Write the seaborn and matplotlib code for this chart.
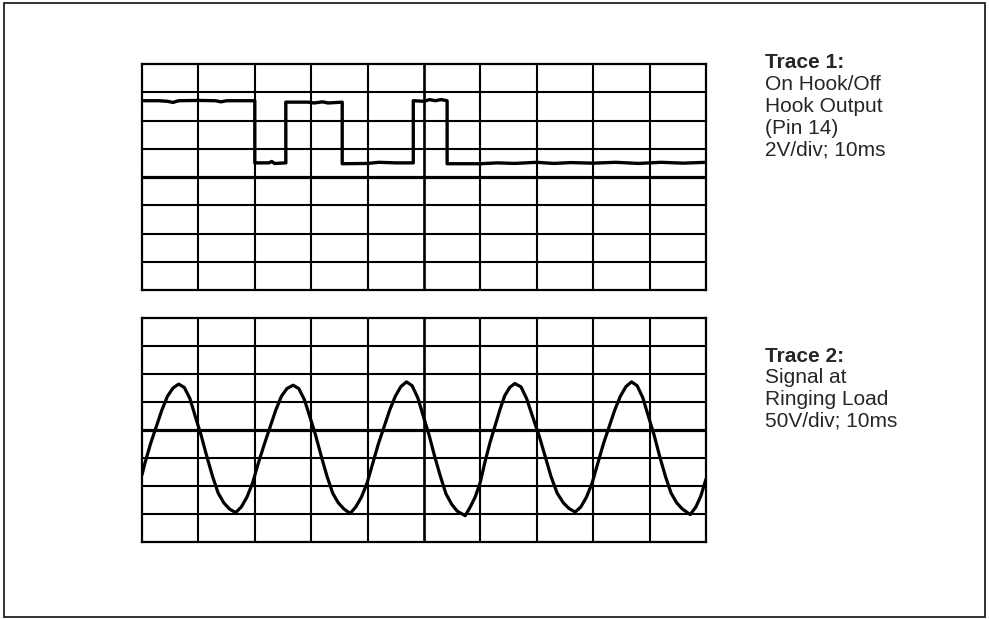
import pandas as pd
import matplotlib
matplotlib.use("Agg")
import matplotlib.pyplot as plt
import seaborn as sns

# Trace 1: on hook / off hook output (divisions, 10 x 8 graticule)
hook_x = [0.0, 0.3, 0.45, 0.55, 0.65, 1.0, 1.3, 1.4, 1.5, 2.0,
          2.0, 2.25, 2.3, 2.35, 2.55,
          2.55, 2.95, 3.05, 3.2, 3.3, 3.55,
          3.55, 4.0, 4.2, 4.5, 4.81,
          4.81, 5.0, 5.1, 5.2, 5.3, 5.41,
          5.41, 6.0, 6.3, 6.6, 7.0, 7.3, 7.6, 8.0, 8.4, 8.8, 9.2, 9.6, 10.0]
hook_y = [6.70, 6.70, 6.68, 6.64, 6.70, 6.71, 6.70, 6.66, 6.70, 6.70,
          4.50, 4.50, 4.55, 4.48, 4.50,
          6.65, 6.65, 6.62, 6.66, 6.62, 6.65,
          4.47, 4.48, 4.52, 4.50, 4.50,
          6.70, 6.68, 6.74, 6.70, 6.74, 6.70,
          4.47, 4.47, 4.50, 4.48, 4.52, 4.48, 4.51, 4.49, 4.52, 4.48, 4.52, 4.49, 4.52]

# Trace 2: signal at ringing load
ring_x = [0.0, 0.05, 0.15, 0.25, 0.35, 0.45, 0.55, 0.65,
          0.75, 0.85, 0.95, 1.05, 1.15, 1.25, 1.35, 1.45, 1.55, 1.66,
          1.76, 1.86, 1.96, 2.06, 2.17, 2.27, 2.37, 2.47, 2.57, 2.68,
          2.78, 2.88, 2.98, 3.08, 3.18, 3.28, 3.38, 3.48, 3.58, 3.69,
          3.79, 3.89, 3.99, 4.09, 4.19, 4.29, 4.39, 4.49, 4.59, 4.69,
          4.79, 4.89, 4.99, 5.09, 5.19, 5.29, 5.39, 5.49, 5.59, 5.73,
          5.82, 5.91, 6.00, 6.08, 6.17, 6.26, 6.35, 6.43, 6.52, 6.61,
          6.72, 6.82, 6.93, 7.04, 7.15, 7.25, 7.36, 7.47, 7.57, 7.68,
          7.78, 7.88, 7.98, 8.08, 8.18, 8.28, 8.38, 8.48, 8.58, 8.68,
          8.78, 8.88, 8.98, 9.08, 9.18, 9.28, 9.38, 9.48, 9.58, 9.72,
          9.82, 9.91, 10.0]
ring_y = [2.40, 2.80, 3.50, 4.10, 4.70, 5.20, 5.50, 5.64,
          5.52, 5.12, 4.45, 3.80, 3.05, 2.35, 1.75, 1.40, 1.18, 1.05,
          1.25, 1.60, 2.10, 2.80, 3.50, 4.10, 4.70, 5.20, 5.48, 5.60,
          5.48, 5.08, 4.45, 3.80, 3.05, 2.35, 1.75, 1.40, 1.18, 1.02,
          1.25, 1.60, 2.10, 2.80, 3.50, 4.10, 4.70, 5.20, 5.55, 5.72,
          5.58, 5.15, 4.48, 3.82, 3.05, 2.35, 1.72, 1.35, 1.10, 0.94,
          1.25, 1.62, 2.15, 2.85, 3.55, 4.15, 4.75, 5.22, 5.52, 5.66,
          5.54, 5.12, 4.45, 3.80, 3.05, 2.35, 1.75, 1.40, 1.20, 1.07,
          1.25, 1.60, 2.10, 2.80, 3.50, 4.10, 4.70, 5.20, 5.55, 5.72,
          5.58, 5.15, 4.48, 3.82, 3.05, 2.35, 1.75, 1.40, 1.18, 0.98,
          1.25, 1.65, 2.25]

trace1_lines = ["On Hook/Off", "Hook Output", "(Pin 14)", "2V/div; 10ms"]
trace2_lines = ["Signal at", "Ringing Load", "50V/div; 10ms"]

sns.set_style("white")
plt.rcParams['font.family'] = ['Liberation Sans', 'DejaVu Sans']

fig = plt.figure(figsize=(9.89, 6.19), dpi=100)
W, H = 989, 619


def px_axes(x0, y0, x1, y1):
    return fig.add_axes([x0 / W, 1 - y1 / H, (x1 - x0) / W, (y1 - y0) / H])


def graticule(ax):
    ax.set_xlim(0, 10)
    ax.set_ylim(0, 8)
    for v in range(1, 10):
        ax.axvline(v, color='black', lw=1.9 if v == 5 else 1.5, zorder=1)
    for h in range(1, 8):
        ax.axhline(h, color='black', lw=2.3 if h == 4 else 1.5, zorder=1)
    ax.set_xticks([])
    ax.set_yticks([])
    ax.set_xlabel('')
    ax.set_ylabel('')
    for s in ax.spines.values():
        s.set_visible(True)
        s.set_color('black')
        s.set_linewidth(1.6)


ax1 = px_axes(142, 64, 706, 290)
df1 = pd.DataFrame({'t': hook_x, 'v': hook_y})
sns.lineplot(data=df1, x='t', y='v', ax=ax1, color='black', lw=2.4,
             estimator=None, sort=False, zorder=3)
graticule(ax1)

ax2 = px_axes(142, 318, 706, 542)
df2 = pd.DataFrame({'t': ring_x, 'v': ring_y})
sns.lineplot(data=df2, x='t', y='v', ax=ax2, color='black', lw=2.3,
             estimator=None, sort=False, zorder=3)
graticule(ax2)

# labels on the right
tx = 765 / W
fs = 15
fig.text(tx, 1 - 68.5 / H, "Trace 1:", fontsize=fs, fontweight='bold', va='baseline')
for i, s in enumerate(trace1_lines):
    fig.text(tx, 1 - (90 + 21.8 * i) / H, s, fontsize=fs, va='baseline')
fig.text(tx, 1 - 361.7 / H, "Trace 2:", fontsize=fs, fontweight='bold', va='baseline')
for i, s in enumerate(trace2_lines):
    fig.text(tx, 1 - (383.3 + 21.7 * i) / H, s, fontsize=fs, va='baseline')

# outer frame
frame = plt.Rectangle((4 / W, 1 - 617 / H), 981 / W, 614 / H, transform=fig.transFigure,
                      fill=False, edgecolor='#222222', lw=1.3)
fig.patches.append(frame)

plt.savefig('out.png', dpi=100)
plt.close()
